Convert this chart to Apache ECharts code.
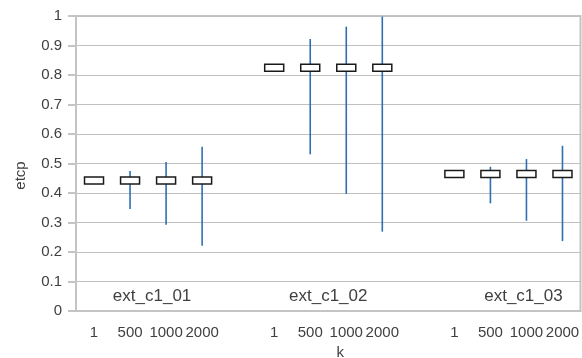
<!DOCTYPE html>
<html>
<head>
<meta charset="utf-8">
<script src="https://cdn.jsdelivr.net/npm/echarts@6/dist/echarts.min.js"></script>
<style>html,body{margin:0;padding:0;background:#fff}#c{width:582px;height:358px}</style>
</head>
<body>
<div id="c"></div>
<script>
// ---- data ----
var groups = ['ext_c1_01', 'ext_c1_02', 'ext_c1_03'];
var kValues = ['1', '500', '1000', '2000'];
var meanG1 = [0.442, 0.442, 0.442, 0.442];
var lowG1  = [0.442, 0.346, 0.292, 0.221];
var highG1 = [0.442, 0.475, 0.505, 0.557];
var meanG2 = [0.825, 0.825, 0.825, 0.825];
var lowG2  = [0.825, 0.531, 0.397, 0.269];
var highG2 = [0.825, 0.922, 0.964, 0.998];
var meanG3 = [0.464, 0.464, 0.464, 0.464];
var lowG3  = [0.464, 0.365, 0.306, 0.237];
var highG3 = [0.464, 0.489, 0.515, 0.560];
var yTicksMin = 0, yTicksMax = 1, yTickStep = 0.1;
var groupLabelValue = 0.05;

// ---- build ----
var means = [meanG1, meanG2, meanG3], lows = [lowG1, lowG2, lowG3], highs = [highG1, highG2, highG3];
var categories = [];
var points = [];
var groupCenters = [];
groups.forEach(function (g, gi) {
  if (gi > 0) categories.push('');
  var start = categories.length;
  kValues.forEach(function (k, ki) {
    points.push([categories.length, lows[gi][ki], highs[gi][ki], means[gi][ki]]);
    categories.push(k);
  });
  groupCenters.push([start + 1, start + 2, gi]);
});
var labelDx = [4, 0, 15];

var textColor = '#404040';
var axisColor = '#c4c4c4';
var chart = echarts.init(document.getElementById('c'), null, {renderer: 'canvas'});
chart.setOption({
  animation: false,
  textStyle: {fontFamily: 'Liberation Sans, Arial, sans-serif'},
  grid: {left: 76, right: 1.5, top: 16, bottom: 47, show: true, borderColor: axisColor, borderWidth: 2, backgroundColor: 'transparent', containLabel: false, outerBoundsMode: 'none'},
  xAxis: {
    type: 'category', data: categories, boundaryGap: true,
    name: 'k', nameLocation: 'middle', nameGap: 33,
    nameTextStyle: {color: textColor, fontSize: 15, padding: [0, 0, 0, 24]},
    axisLine: {lineStyle: {color: axisColor, width: 2}},
    axisTick: {alignWithLabel: true, interval: 0, length: 7, lineStyle: {color: axisColor, width: 2}},
    axisLabel: {interval: 0, color: textColor, fontSize: 15, margin: 14},
    splitLine: {show: false}
  },
  yAxis: {
    type: 'value', min: yTicksMin, max: yTicksMax, interval: yTickStep,
    name: 'etcp', nameLocation: 'middle', nameGap: 48,
    nameTextStyle: {color: textColor, fontSize: 15, padding: [0, 24, 0, 0]},
    axisLine: {show: true, lineStyle: {color: axisColor, width: 2}},
    axisTick: {show: true, length: 8, lineStyle: {color: axisColor, width: 2}},
    axisLabel: {color: textColor, fontSize: 15, margin: 14},
    splitLine: {lineStyle: {color: '#c0c0c0', width: 1}}
  },
  series: [
    {
      type: 'custom',
      data: points,
      encode: {x: 0, y: [1, 2, 3]},
      renderItem: function (params, api) {
        var x = api.value(0);
        var lo = api.coord([x, api.value(1)]);
        var hi = api.coord([x, api.value(2)]);
        var m = api.coord([x, api.value(3)]);
        var w = 19, h = 7;
        return {
          type: 'group',
          children: [
            {type: 'line', shape: {x1: lo[0], y1: lo[1], x2: hi[0], y2: hi[1]}, style: {stroke: '#2e6fb4', lineWidth: 1.6}},
            {type: 'rect', shape: {x: m[0] - w / 2, y: m[1] - h / 2, width: w, height: h}, style: {fill: '#fff', stroke: '#1a1a1a', lineWidth: 1.5}}
          ]
        };
      },
      z: 3
    },
    {
      type: 'custom',
      data: groupCenters,
      encode: {x: 0},
      renderItem: function (params, api) {
        var a = api.coord([api.value(0), groupLabelValue]);
        var b = api.coord([api.value(1), groupLabelValue]);
        var gi = api.value(2);
        return {
          type: 'text',
          style: {x: (a[0] + b[0]) / 2 + labelDx[gi], y: a[1], text: groups[gi], fill: textColor, fontSize: 17, fontFamily: 'Liberation Sans, Arial, sans-serif', align: 'center', verticalAlign: 'middle'}
        };
      },
      z: 4
    }
  ]
});
</script>
</body>
</html>
